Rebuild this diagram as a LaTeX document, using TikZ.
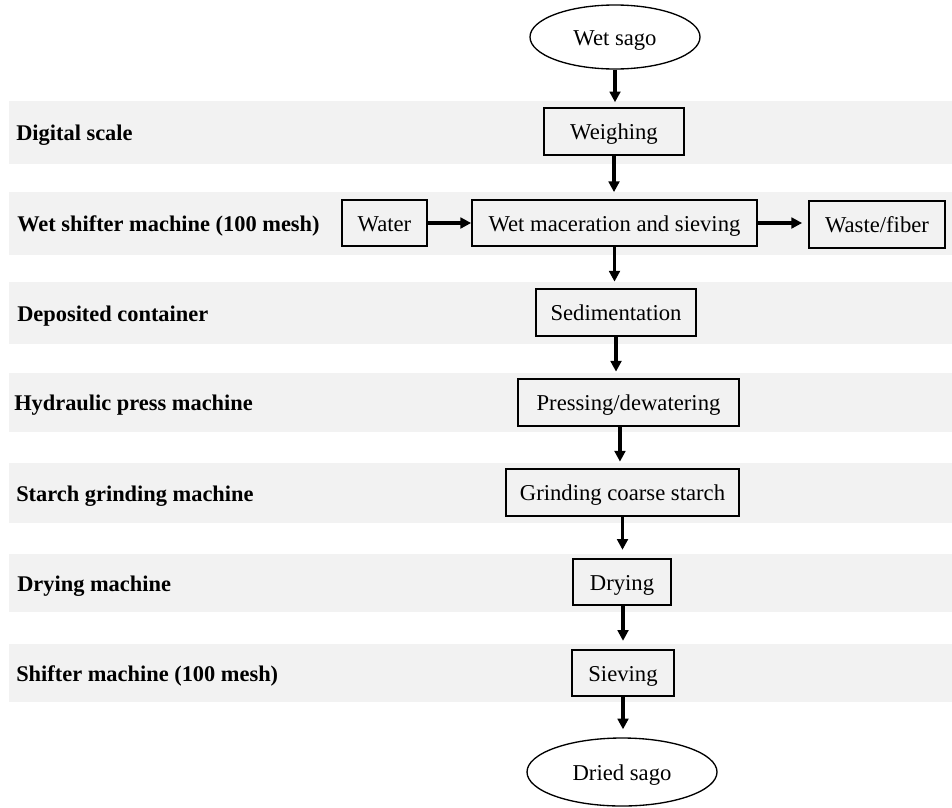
\documentclass[tikz,border=0pt]{standalone}
\usepackage{fontspec}
\setmainfont{Liberation Serif}
\usetikzlibrary{arrows.meta,shapes.geometric}
\definecolor{bandgrey}{HTML}{F2F2F2}
\begin{document}
\begin{tikzpicture}[x=0.75pt,y=-0.75pt,
  bandrow/.style={fill=bandgrey,draw=none},
  proc/.style={draw=black,line width=1.3pt,fill=bandgrey,minimum height=35pt,inner sep=0pt,
    text height=12.6pt,text depth=0pt,font=\fontsize{17}{20}\selectfont},
  term/.style={ellipse,draw=black,line width=1pt,fill=white,inner sep=0pt,
    text height=12.6pt,text depth=0pt,font=\fontsize{17}{20}\selectfont},
  lab/.style={anchor=west,inner sep=0pt,text height=12.6pt,text depth=0pt,
    font=\fontsize{16.8}{20}\selectfont\bfseries},
  flow/.style={line width=2.3pt,-{Triangle[length=8pt,width=8pt]}}
]
\useasboundingbox (0,0) rectangle (952,807);
\fill[white] (0,0) rectangle (952,807);

% bands
\fill[bandrow] (9,101) rectangle (952,164);
\fill[bandrow] (9,192) rectangle (952,255);
\fill[bandrow] (9,282) rectangle (952,344);
\fill[bandrow] (9,373) rectangle (952,432);
\fill[bandrow] (9,463) rectangle (952,523);
\fill[bandrow] (9,554) rectangle (952,612);
\fill[bandrow] (9,644) rectangle (952,702);

% left labels
\node[lab] (l1) at (16,132.5) {Digital scale};
\node[lab] (l2) at (17,223.5) {Wet shifter machine (100 mesh)};
\node[lab] (l3) at (17,313) {Deposited container};
\node[lab] (l4) at (14,402.5) {Hydraulic press machine};
\node[lab] (l5) at (16,493) {Starch grinding machine};
\node[lab] (l6) at (17,583) {Drying machine};
\node[lab] (l7) at (16,673) {Shifter machine (100 mesh)};

% terminals
\node[term,minimum width=127.5pt,minimum height=48pt] (ws) at (615,37) {Wet sago};
\node[term,minimum width=142.5pt,minimum height=51pt] (ds) at (622,772) {Dried sago};

% process boxes
\node[proc,minimum width=105pt] (weigh) at (614,131.5) {Weighing};
\node[proc,minimum width=63.75pt] (water) at (384.5,223) {Water};
\node[proc,minimum width=213.75pt] (mac) at (614.5,223) {Wet maceration and sieving};
\node[proc,minimum width=102pt] (waste) at (877,224.5) {Waste/fiber};
\node[proc,minimum width=120pt] (sed) at (616,312.5) {Sedimentation};
\node[proc,minimum width=165.75pt] (press) at (628.5,402.5) {Pressing/dewatering};
\node[proc,minimum width=174.75pt] (grind) at (622.5,492.5) {Grinding coarse starch};
\node[proc,minimum width=73.5pt] (dry) at (622,582) {Drying};
\node[proc,minimum width=76.5pt] (siev) at (623,673) {Sieving};

% connectors
\draw[flow,shorten >=3.8pt] (ws.south) -- (ws.south |- weigh.north);
\draw[flow,shorten >=5pt] (weigh.south) -- (weigh.south |- mac.north);
\draw[flow] (water.east) -- (water.east -| mac.west);
\draw[flow,shorten >=4.5pt] (mac.east) -- (mac.east -| waste.west);
\draw[flow,shorten >=5pt] (mac.south) -- (mac.south |- sed.north);
\draw[flow,shorten >=5pt] (sed.south) -- (sed.south |- press.north);
\draw[flow,shorten >=5pt] ([xshift=-6.4pt]press.south) -- ([xshift=-6.4pt]press.south |- grind.north);
\draw[flow,shorten >=6pt] (grind.south) -- (grind.south |- dry.north);
\draw[flow,shorten >=6pt] ([xshift=0.75pt]dry.south) -- ([xshift=0.75pt]dry.south |- siev.north);
\draw[flow,shorten >=6pt] (siev.south) -- (siev.south |- ds.north);
\end{tikzpicture}
\end{document}
